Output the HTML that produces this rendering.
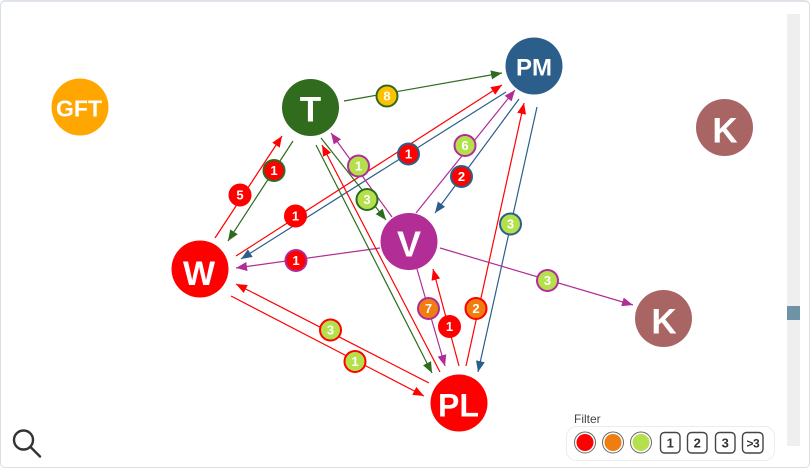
<!DOCTYPE html>
<html><head><meta charset="utf-8"><style>
html,body{margin:0;padding:0;background:#fff;width:811px;height:468px;overflow:hidden;}
.panel{position:absolute;left:0;top:0;width:808px;height:465px;border:1px solid #d9dfe4;border-top:2px solid #dde3e8;border-radius:5px;background:#fff;}
svg{position:absolute;left:0;top:0;}
</style></head><body>
<div class="panel"></div>
<svg width="811" height="468" viewBox="0 0 811 468" xmlns="http://www.w3.org/2000/svg" font-family="'Liberation Sans', sans-serif">
<defs>
<marker id="ar" markerUnits="userSpaceOnUse" markerWidth="11" markerHeight="9" refX="11" refY="4.5" orient="auto"><path d="M0,0 L11,4.5 L0,9 z" fill="#ff0000"/></marker>
<marker id="ag" markerUnits="userSpaceOnUse" markerWidth="11" markerHeight="9" refX="11" refY="4.5" orient="auto"><path d="M0,0 L11,4.5 L0,9 z" fill="#2e6b1e"/></marker>
<marker id="ab" markerUnits="userSpaceOnUse" markerWidth="11" markerHeight="9" refX="11" refY="4.5" orient="auto"><path d="M0,0 L11,4.5 L0,9 z" fill="#2a5f8b"/></marker>
<marker id="ap" markerUnits="userSpaceOnUse" markerWidth="11" markerHeight="9" refX="11" refY="4.5" orient="auto"><path d="M0,0 L11,4.5 L0,9 z" fill="#b12c96"/></marker>
</defs>
<!-- scrollbar -->
<rect x="787" y="14" width="13" height="432" fill="#efefef"/>
<rect x="787" y="306" width="13" height="14" fill="#6f93a6"/>

<g stroke-width="1.2" fill="none">
<line x1="344" y1="101" x2="502" y2="73" stroke="#2e6b1e" marker-end="url(#ag)"/>
<line x1="215" y1="238" x2="282" y2="136" stroke="#ff0000" marker-end="url(#ar)"/>
<line x1="293" y1="141" x2="228" y2="241" stroke="#2e6b1e" marker-end="url(#ag)"/>
<line x1="236" y1="256" x2="502" y2="85" stroke="#ff0000" marker-end="url(#ar)"/>
<line x1="506" y1="92" x2="241" y2="259" stroke="#2a5f8b" marker-end="url(#ab)"/>
<line x1="392" y1="217" x2="331" y2="133" stroke="#b12c96" marker-end="url(#ap)"/>
<line x1="321" y1="138" x2="386" y2="220" stroke="#2e6b1e" marker-end="url(#ag)"/>
<line x1="416" y1="213" x2="515" y2="90" stroke="#b12c96" marker-end="url(#ap)"/>
<line x1="519" y1="99" x2="435" y2="213" stroke="#2a5f8b" marker-end="url(#ab)"/>
<line x1="466" y1="366" x2="524" y2="103" stroke="#ff0000" marker-end="url(#ar)"/>
<line x1="537" y1="107" x2="478" y2="372" stroke="#2a5f8b" marker-end="url(#ab)"/>
<line x1="380" y1="248" x2="236" y2="268" stroke="#b12c96" marker-end="url(#ap)"/>
<line x1="440" y1="248" x2="633" y2="305" stroke="#b12c96" marker-end="url(#ap)"/>
<line x1="429" y1="383" x2="236" y2="284" stroke="#ff0000" marker-end="url(#ar)"/>
<line x1="231" y1="296" x2="424" y2="396" stroke="#ff0000" marker-end="url(#ar)"/>
<line x1="417" y1="269" x2="445" y2="366" stroke="#b12c96" marker-end="url(#ap)"/>
<line x1="459" y1="366" x2="433" y2="269" stroke="#ff0000" marker-end="url(#ar)"/>
<line x1="316" y1="145" x2="432" y2="373" stroke="#2e6b1e" marker-end="url(#ag)"/>
<line x1="440" y1="372" x2="322" y2="145" stroke="#ff0000" marker-end="url(#ar)"/>
</g>

<!-- nodes -->
<g font-weight="bold" fill="#fff" text-anchor="middle">
<circle cx="80" cy="107" r="28.5" fill="#ffa600"/>
<text x="79" y="116.5" font-size="23" fill="#fff">GFT</text>
<circle cx="310.5" cy="107.5" r="28.5" fill="#306b1e"/>
<text x="310.5" y="121.7" font-size="35" fill="#fff">T</text>
<circle cx="534" cy="66" r="28.5" fill="#2b5e8b"/>
<text x="534" y="75.7" font-size="24" fill="#fff">PM</text>
<circle cx="409" cy="241.5" r="28.5" fill="#b22d96"/>
<text x="409" y="256.7" font-size="36" fill="#fff">V</text>
<circle cx="200" cy="269" r="28.5" fill="#ff0000"/>
<text x="199" y="285" font-size="34" fill="#fff">W</text>
<circle cx="459" cy="403" r="28.5" fill="#ff0000"/>
<text x="458.5" y="416.7" font-size="32" fill="#fff">PL</text>
<circle cx="724.5" cy="127.5" r="28.5" fill="#a96464"/>
<text x="725" y="142.7" font-size="35" fill="#fff">K</text>
<circle cx="663.5" cy="318.5" r="28.5" fill="#a96464"/>
<text x="664" y="333.3" font-size="35" fill="#fff">K</text>
</g>

<!-- badges -->
<g stroke-width="2" font-weight="bold" font-size="13" text-anchor="middle">
<circle cx="387" cy="96" r="10.5" fill="#ffc000" stroke="#2e6b1e"/><text x="387" y="100.7" fill="#fff" stroke="none">8</text>
<circle cx="274" cy="170.5" r="10.5" fill="#ff0000" stroke="#2e6b1e"/><text x="274" y="175.2" fill="#fff" stroke="none">1</text>
<circle cx="240" cy="195" r="10.5" fill="#ff0000" stroke="#ff0000"/><text x="240" y="199.7" fill="#fff" stroke="none">5</text>
<circle cx="295.5" cy="216" r="10.5" fill="#ff0000" stroke="#ff0000"/><text x="295.5" y="220.7" fill="#fff" stroke="none">1</text>
<circle cx="408.5" cy="154" r="10.5" fill="#ff0000" stroke="#2a5f8b"/><text x="408.5" y="158.7" fill="#fff" stroke="none">1</text>
<circle cx="358.5" cy="166" r="10.5" fill="#b4e04b" stroke="#b12c96"/><text x="358.5" y="170.7" fill="#fff" stroke="none">1</text>
<circle cx="367" cy="199.5" r="10.5" fill="#b4e04b" stroke="#2e6b1e"/><text x="367" y="204.2" fill="#fff" stroke="none">3</text>
<circle cx="296" cy="260.5" r="10.5" fill="#ff0000" stroke="#b12c96"/><text x="296" y="265.2" fill="#fff" stroke="none">1</text>
<circle cx="465" cy="145.5" r="10.5" fill="#b4e04b" stroke="#b12c96"/><text x="465" y="150.2" fill="#fff" stroke="none">6</text>
<circle cx="461.5" cy="176.5" r="10.5" fill="#ff0000" stroke="#2a5f8b"/><text x="461.5" y="181.2" fill="#fff" stroke="none">2</text>
<circle cx="510.5" cy="224" r="10.5" fill="#b4e04b" stroke="#2a5f8b"/><text x="510.5" y="228.7" fill="#fff" stroke="none">3</text>
<circle cx="547.5" cy="280.5" r="10.5" fill="#b4e04b" stroke="#b12c96"/><text x="547.5" y="285.2" fill="#fff" stroke="none">3</text>
<circle cx="428.5" cy="308.5" r="10.5" fill="#ef7d0f" stroke="#b12c96"/><text x="428.5" y="313.2" fill="#fff" stroke="none">7</text>
<circle cx="476" cy="308.5" r="10.5" fill="#ef7d0f" stroke="#ff0000"/><text x="476" y="313.2" fill="#fff" stroke="none">2</text>
<circle cx="449.5" cy="326.5" r="10.5" fill="#ff0000" stroke="#ff0000"/><text x="449.5" y="331.2" fill="#fff" stroke="none">1</text>
<circle cx="330.5" cy="330" r="10.5" fill="#b4e04b" stroke="#ff0000"/><text x="330.5" y="334.7" fill="#fff" stroke="none">3</text>
<circle cx="355" cy="361.5" r="10.5" fill="#b4e04b" stroke="#ff0000"/><text x="355" y="366.2" fill="#fff" stroke="none">1</text>
</g>

<!-- search icon -->
<g stroke="#333" stroke-width="2.4" fill="none" stroke-linecap="round">
<circle cx="23.5" cy="440" r="9.5"/>
<line x1="30.5" y1="447" x2="40" y2="456.5"/>
</g>

<!-- filter -->
<text x="574" y="423" font-size="12" fill="#444">Filter</text>
<rect x="566.5" y="426.5" width="208" height="34" rx="10" ry="10" fill="#fff" stroke="#ececec" stroke-width="1"/>
<circle cx="585" cy="442.5" r="10.5" fill="#fff" stroke="#666" stroke-width="1"/>
<circle cx="585" cy="442.5" r="8.5" fill="#ff0000"/>
<circle cx="613" cy="442.5" r="10.5" fill="#fff" stroke="#666" stroke-width="1"/>
<circle cx="613" cy="442.5" r="8.5" fill="#ef7d0f"/>
<circle cx="641" cy="442.5" r="10.5" fill="#fff" stroke="#666" stroke-width="1"/>
<circle cx="641" cy="442.5" r="8.5" fill="#b4e04b"/>
<g fill="#fff" stroke="#444" stroke-width="1.4">
<rect x="660.5" y="432.5" width="19.5" height="20.5" rx="4"/>
<rect x="687.5" y="432.5" width="19.5" height="20.5" rx="4"/>
<rect x="715.5" y="432.5" width="19.5" height="20.5" rx="4"/>
<rect x="742.5" y="432.5" width="20.5" height="20.5" rx="4"/>
</g>
<g font-size="13" font-weight="bold" fill="#333" text-anchor="middle">
<text x="670.3" y="447.5">1</text>
<text x="697.3" y="447.5">2</text>
<text x="725.3" y="447.5">3</text>
<text x="752.8" y="447.5" font-size="12" letter-spacing="-0.5">&gt;3</text>
</g>
</svg>
</body></html>
